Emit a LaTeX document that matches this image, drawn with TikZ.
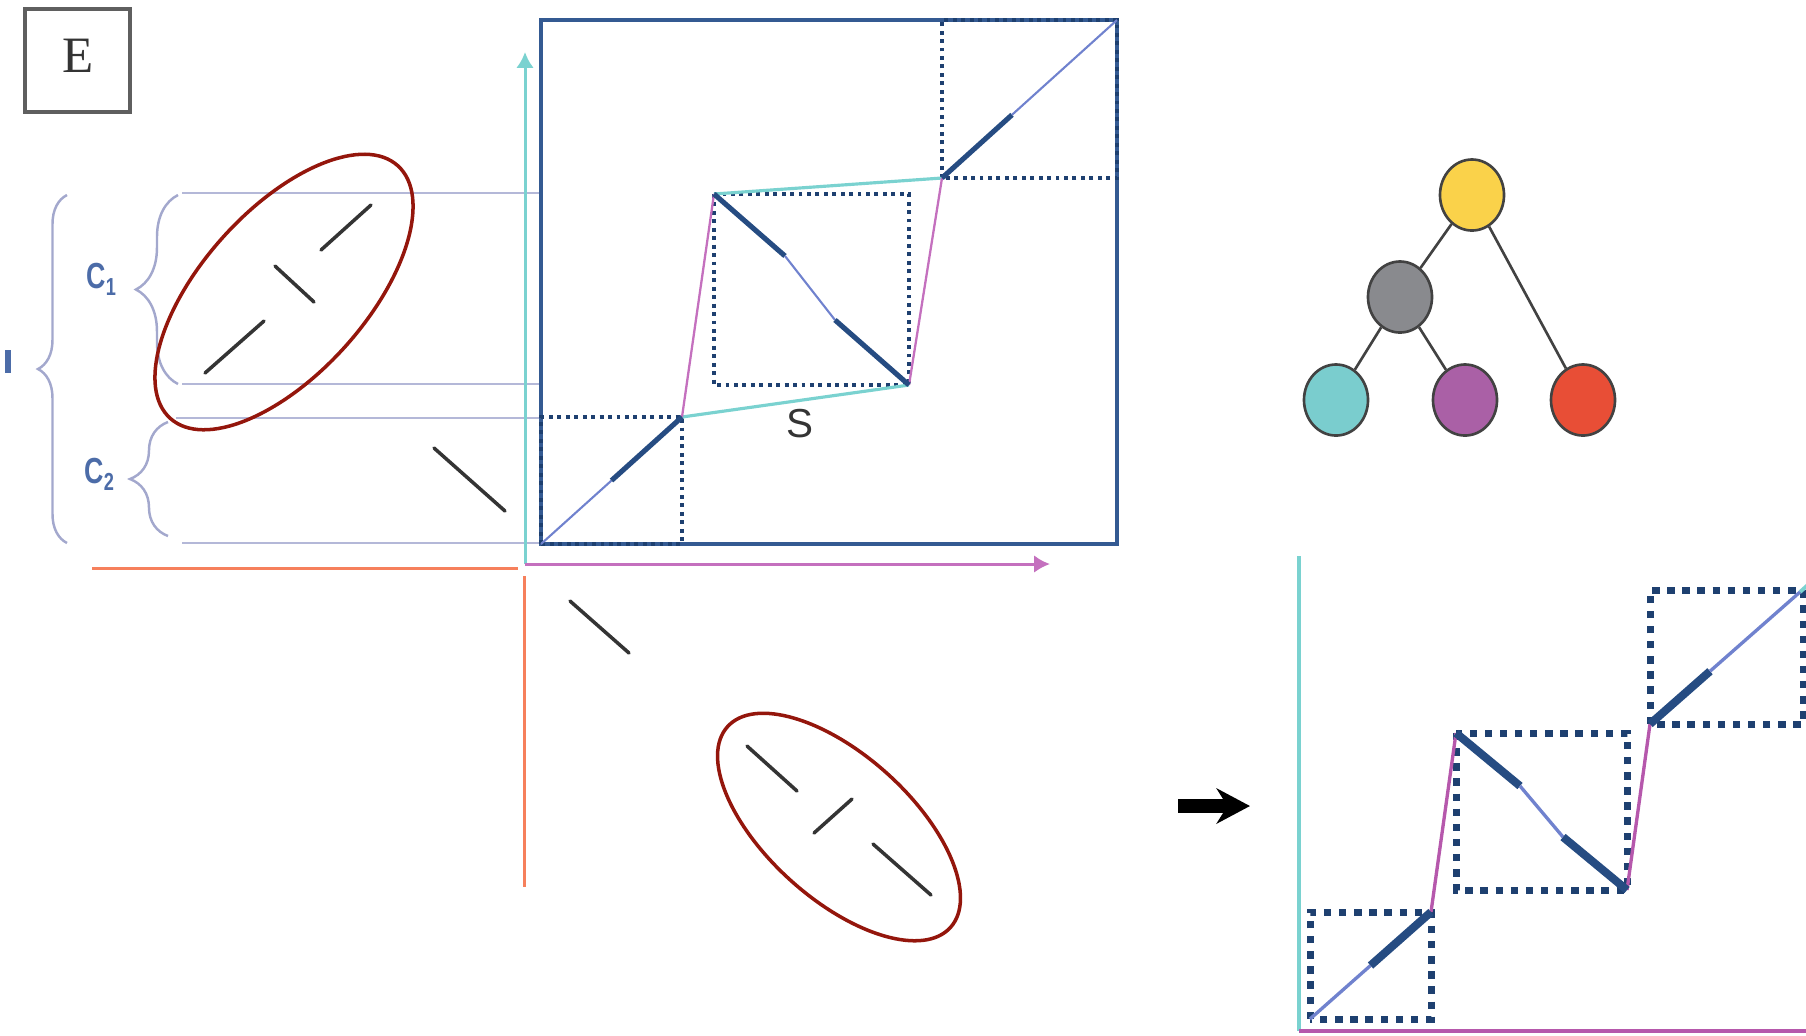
\documentclass[tikz,border=0pt]{standalone}
\usepackage{fontspec}
\setmainfont{Liberation Serif}
\setsansfont{Liberation Sans}
\usetikzlibrary{calc,arrows.meta,shapes.geometric,decorations.pathreplacing}
\definecolor{boxnavy}{RGB}{52,90,146}
\definecolor{dotnavy}{RGB}{30,64,112}
\definecolor{thicknavy}{RGB}{38,76,130}
\definecolor{thinblue}{RGB}{112,130,206}
\definecolor{magline}{RGB}{196,112,190}
\definecolor{magdeep}{RGB}{182,88,172}
\definecolor{cyanline}{RGB}{122,210,208}
\definecolor{orangeline}{RGB}{246,128,92}
\definecolor{guidelav}{RGB}{180,184,216}
\definecolor{bracelav}{RGB}{163,168,205}
\definecolor{labelblue}{RGB}{76,108,168}
\definecolor{ringred}{RGB}{148,22,12}
\definecolor{strokegray}{RGB}{52,52,52}
\definecolor{panelgray}{RGB}{95,95,95}
\definecolor{edgegray}{RGB}{66,66,66}
\definecolor{nodeyellow}{RGB}{250,210,74}
\definecolor{nodegray}{RGB}{137,138,142}
\definecolor{nodecyan}{RGB}{122,205,206}
\definecolor{nodemagenta}{RGB}{170,96,166}
\definecolor{nodered}{RGB}{232,78,54}
\begin{document}
\begin{tikzpicture}[
  x=0.01cm, y=-0.01cm,
  guide/.style={draw=guidelav, line width=0.7pt},
  brc/.style={draw=bracelav, line width=0.7pt, decorate},
  clabel/.style={font=\sffamily\bfseries\fontsize{10.3}{11}\selectfont, text=labelblue, xscale=0.74, inner sep=0, anchor=base west},
  ring/.style={draw=ringred, line width=1pt},
  stroke/.style={draw=strokegray, line width=1pt, line cap=round},
  axis/.style={line width=0.85pt, -{Latex[length=4.5pt,width=5pt]}},
  bigbox/.style={draw=boxnavy, line width=1.25pt},
  dotbox/.style={draw=dotnavy, line width=0.9pt, dash pattern=on 1.1pt off 1.3pt},
  thinseg/.style={draw=thinblue, line width=0.6pt},
  thickseg/.style={draw=thicknavy, line width=1.45pt},
  magseg/.style={draw=magline, line width=0.65pt},
  cyanseg/.style={draw=cyanline, line width=0.9pt},
  bigdots/.style={draw=dotnavy, line width=2pt, dash pattern=on 2.1pt off 2.2pt},
  bthin/.style={draw=thinblue, line width=0.95pt},
  bthick/.style={draw=thicknavy, line width=2.3pt},
  bmag/.style={draw=magdeep, line width=0.95pt},
  leaf/.style={ellipse, draw=edgegray, line width=0.75pt, minimum width=0.64cm, minimum height=0.71cm, inner sep=0},
  edge/.style={draw=edgegray, line width=0.75pt}
]
\useasboundingbox (0,0) rectangle (1806,1035);

% panel letter
\node[draw=panelgray, line width=0.9pt, minimum width=1.05cm, minimum height=1.03cm] (panel) at (77.5,60.5) {};
\node[font=\fontsize{14.5}{15}\selectfont, text=strokegray] (elabel) at (78,56) {E};

% braces and guide lines
\fill[labelblue] (5,350) rectangle (11,373);
\draw[brc, decoration={brace, amplitude=0.29cm}] (67,543) -- (67,195);
\draw[brc, decoration={brace, amplitude=0.42cm}] (178,384) -- (178,195);
\draw[brc, decoration={brace, amplitude=0.38cm}] (168,536) -- (168,422);
\node[clabel] (c1) at (86,288) {C\raisebox{-2.2pt}{\fontsize{7}{7}\selectfont 1}};
\node[clabel] (c2) at (84,483) {C\raisebox{-2.2pt}{\fontsize{7}{7}\selectfont 2}};
\draw[guide] (182,193) -- (541,193);
\draw[guide] (182,384) -- (541,384);
\draw[guide] (176,418) -- (541,418);
\draw[guide] (182,543) -- (541,543);

% axes
\coordinate (orig) at (525,564);
\coordinate (ytip) at (525,52);
\coordinate (xtip) at (1050,564);
\coordinate (oleft) at (92,568);
\coordinate (oright) at (518,568);
\coordinate (otop) at (524,576);
\coordinate (obot) at (524,887);
\draw[axis, cyanline] (orig) -- (ytip);
\draw[axis, magline] (orig) -- (xtip);
\draw[orangeline, line width=0.85pt] (oleft) -- (oright);
\draw[orangeline, line width=0.85pt] (otop) -- (obot);

% strokes and rings
\draw[stroke] (205,373) -- (264,321);
\draw[stroke] (275,266) -- (314,302);
\draw[stroke] (321,250) -- (371,205);
\draw[stroke] (434,448) -- (505,511);
\draw[stroke] (570,601) -- (629,653);
\draw[stroke] (747,746) -- (797,791);
\draw[stroke] (814,833) -- (852,799);
\draw[stroke] (873,844) -- (931,895);
\draw[ring, rotate around={48:(284,292)}] (284,292) ellipse [x radius=170, y radius=82];
\draw[ring, rotate around={-42:(839,827)}] (839,827) ellipse [x radius=150, y radius=72];

% similarity matrix
\coordinate (q0) at (541,544);
\coordinate (q1) at (682,417);
\coordinate (m0) at (714,194);
\coordinate (m1) at (785,256);
\coordinate (m2) at (835,320);
\coordinate (m3) at (909,385);
\coordinate (r0) at (942,178);
\coordinate (r1) at (1117,20);
\draw[bigbox] (541,20) rectangle (1117,544);
\draw[dotbox] (q0) rectangle (q1);
\draw[dotbox] (714,194) rectangle (909,385);
\draw[dotbox] (942,178) rectangle (1117,20);
\draw[cyanseg] (q1) -- (m3);
\draw[cyanseg] (m0) -- (r0);
\draw[magseg] (q1) -- (m0);
\draw[magseg] (m3) -- (r0);
\draw[thinseg] (q0) -- ($(q0)!0.5!(q1)$);
\draw[thickseg] ($(q0)!0.5!(q1)$) -- (q1);
\draw[thickseg] (m0) -- (m1);
\draw[thinseg] (m1) -- (m2);
\draw[thickseg] (m2) -- (m3);
\draw[thickseg] (r0) -- ($(r0)!0.4!(r1)$);
\draw[thinseg] ($(r0)!0.4!(r1)$) -- (r1);
\node[font=\sffamily\fontsize{11.5}{12}\selectfont, text=strokegray] (slabel) at (800,424) {S};

% tree
\node[leaf, fill=nodeyellow] (root) at (1472,195) {};
\node[leaf, fill=nodegray] (inner) at (1400,297) {};
\node[leaf, fill=nodecyan] (lcyan) at (1336,400) {};
\node[leaf, fill=nodemagenta] (lmag) at (1465,400) {};
\node[leaf, fill=nodered] (lred) at (1583,400) {};
\draw[edge] (root) -- (inner);
\draw[edge] (root) -- (lred);
\draw[edge] (inner) -- (lcyan);
\draw[edge] (inner) -- (lmag);

% arrow
\coordinate (arrtail) at (1178,806);
\coordinate (arrhead) at (1250,806);
\draw[black, line width=4.2pt, -{Stealth[length=9.5pt,width=10pt]}] (arrtail) -- (arrhead);

% reordered matrix
\coordinate (bo) at (1299,1031);
\coordinate (by) at (1299,556);
\coordinate (bx) at (1806,1031);
\coordinate (s0) at (1310,1019);
\coordinate (s1) at (1431,912);
\coordinate (t0) at (1456,733);
\coordinate (t1) at (1520,786);
\coordinate (t2) at (1563,837);
\coordinate (t3) at (1627,890);
\coordinate (u0) at (1650,724);
\coordinate (u1) at (1800,592);
\coordinate (uend) at (1810,583);
\draw[cyanline, line width=1.1pt] (bo) -- (by);
\draw[magdeep, line width=1.2pt] (bo) -- (bx);
\draw[bigdots] (s0) rectangle (s1);
\draw[bigdots] (1456,733) rectangle (1627,890);
\draw[bigdots] (1650,724) rectangle (1803,590);
\draw[bmag] (s1) -- (t0);
\draw[bmag] (t3) -- (u0);
\draw[cyanline, line width=1.1pt] (u1) -- (uend);
\draw[bthin] (s0) -- ($(s0)!0.5!(s1)$);
\draw[bthick] ($(s0)!0.5!(s1)$) -- (s1);
\draw[bthick] (t0) -- (t1);
\draw[bthin] (t1) -- (t2);
\draw[bthick] (t2) -- (t3);
\draw[bthick] (u0) -- ($(u0)!0.4!(u1)$);
\draw[bthin] ($(u0)!0.4!(u1)$) -- (u1);
\end{tikzpicture}
\end{document}
